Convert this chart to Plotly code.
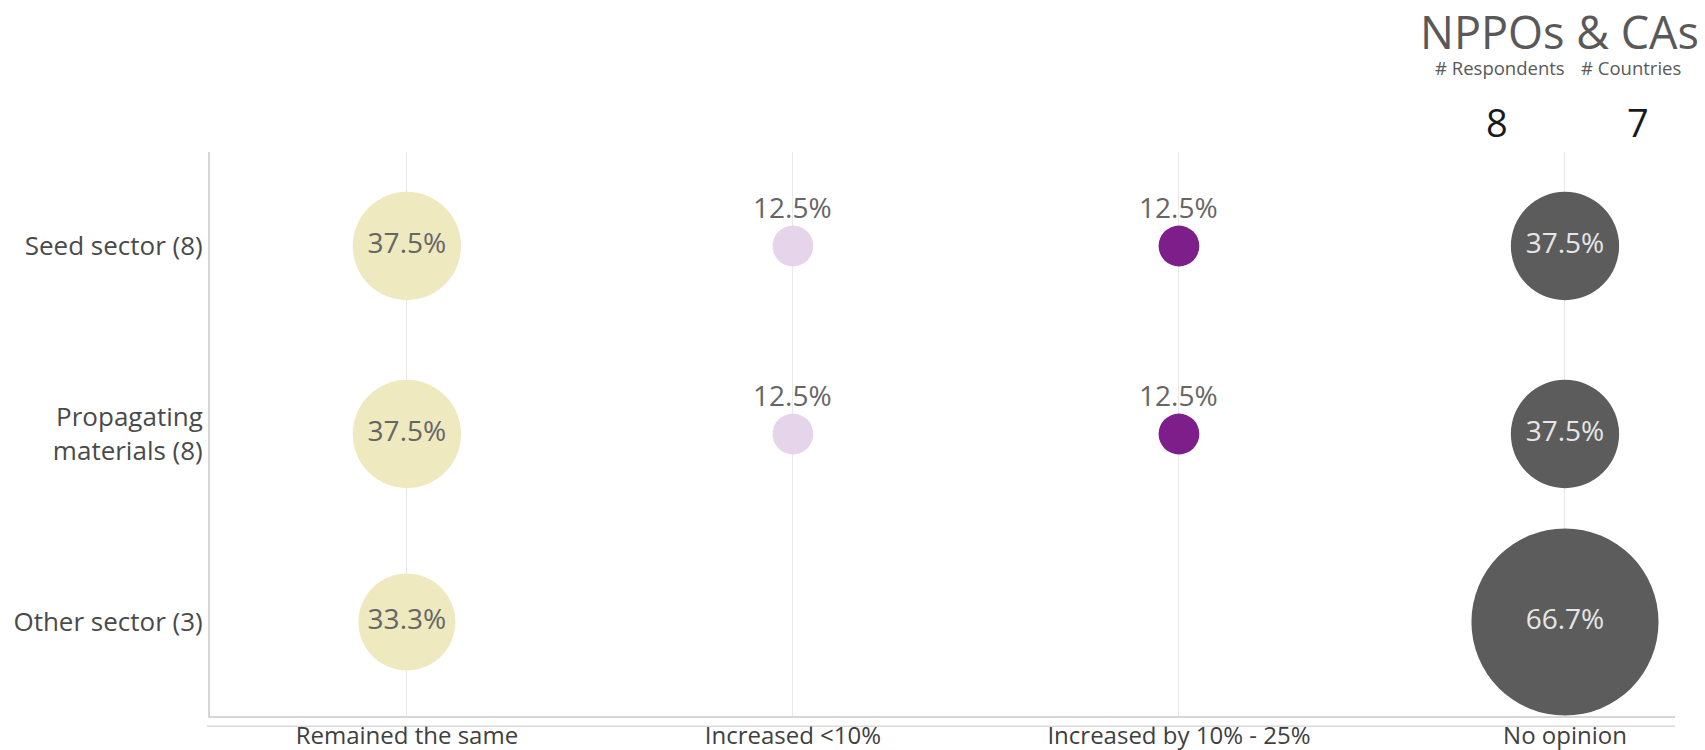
import plotly.graph_objects as go

categories = ["Remained the same", "Increased <10%", "Increased by 10% - 25%", "No opinion"]
rows = ["Seed sector (8)", "Propagating<br>materials (8)", "Other sector (3)"]
# values[row][category]; None = no response
values = [
    [37.5, 12.5, 12.5, 37.5],
    [37.5, 12.5, 12.5, 37.5],
    [33.3, None, None, 66.7],
]
colors = ["#EEE9BF", "#E6D4EA", "#7D1E8A", "#5C5C5C"]
label_colors = ["#666666", "#666666", "#666666", "#E6E6E6"]
inside = [True, False, False, True]
respondents = 8
countries = 7

fig = go.Figure()

for ci, cat in enumerate(categories):
    xs, ys, vs = [], [], []
    for ri in range(len(rows)):
        v = values[ri][ci]
        if v is not None:
            xs.append(ci)
            ys.append(ri)
            vs.append(v)
    sizes = [7 + 2.7 * v for v in vs]
    texts = [f"{v:.1f}%" for v in vs]
    fig.add_trace(go.Scatter(
        x=xs, y=ys, mode="markers+text" if inside[ci] else "markers",
        marker=dict(size=sizes, color=colors[ci], line=dict(width=0), opacity=1),
        text=texts if inside[ci] else None,
        textposition="middle center",
        textfont=dict(family="Open Sans", size=28, color=label_colors[ci]),
        showlegend=False, hoverinfo="skip",
    ))
    if not inside[ci]:
        for x, y, v, s in zip(xs, ys, vs, sizes):
            fig.add_annotation(x=x, y=y, text=f"{v:.1f}%", showarrow=False,
                               yshift=s / 2 + 19,
                               font=dict(family="Open Sans", size=28, color="#666666"))

fig.update_layout(
    width=1705, height=750,
    margin=dict(l=210, r=30, t=152, b=34),
    paper_bgcolor="white", plot_bgcolor="white",
    xaxis=dict(range=[-0.51, 3.285], tickmode="array", tickvals=list(range(len(categories))),
               ticktext=categories, showgrid=True, gridcolor="#E8E8E8", gridwidth=1,
               zeroline=False, showline=True, linecolor="#D6D6D6", linewidth=2, ticks="",
               automargin=False, ticklabelstandoff=-3,
               tickfont=dict(family="Open Sans", size=24, color="#404040")),
    yaxis=dict(range=[2.5, -0.5], tickmode="array", tickvals=list(range(len(rows))),
               ticktext=rows, showgrid=False, zeroline=False, showline=True,
               linecolor="#D6D6D6", linewidth=2, ticks="", ticklabelstandoff=0,
               automargin=False,
               tickfont=dict(family="Open Sans", size=26, color="#4A4A4A")),
)

# second thin baseline under the axis
fig.add_shape(type="line", xref="paper", yref="paper", x0=-0.002, x1=1, y0=-0.018, y1=-0.018,
              line=dict(color="#C8C8C8", width=1))

# header
fig.add_annotation(xref="paper", yref="paper", x=1.0, y=1, xanchor="right", yanchor="middle",
                   yshift=121, xshift=26, text="NPPOs & CAs", showarrow=False,
                   font=dict(family="Open Sans", size=45, color="#595959"))
fig.add_annotation(xref="paper", yref="paper", x=1.0, y=1, xanchor="center", yanchor="middle",
                   yshift=85, xshift=-175, text="# Respondents", showarrow=False,
                   font=dict(family="Open Sans", size=18.5, color="#595959"))
fig.add_annotation(xref="paper", yref="paper", x=1.0, y=1, xanchor="center", yanchor="middle",
                   yshift=85, xshift=-44, text="# Countries", showarrow=False,
                   font=dict(family="Open Sans", size=18.5, color="#595959"))
fig.add_annotation(xref="paper", yref="paper", x=1.0, y=1, xanchor="center", yanchor="middle",
                   yshift=30, xshift=-178, text=str(respondents), showarrow=False,
                   font=dict(family="Open Sans", size=38, color="#1A1A1A"))
fig.add_annotation(xref="paper", yref="paper", x=1.0, y=1, xanchor="center", yanchor="middle",
                   yshift=30, xshift=-37, text=str(countries), showarrow=False,
                   font=dict(family="Open Sans", size=38, color="#1A1A1A"))

fig.write_html("out.html", config={"displayModeBar": False},
               post_script="document.body.style.margin='0';document.body.style.overflow='hidden';")
